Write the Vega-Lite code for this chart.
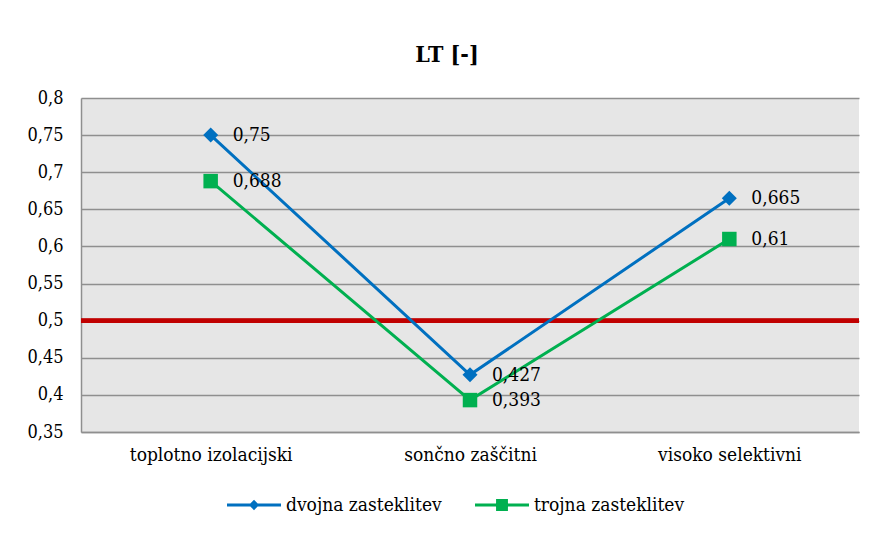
{
  "$schema": "https://vega.github.io/schema/vega-lite/v6.json",
  "width": 778,
  "height": 334,
  "autosize": "none",
  "padding": {"left": 81, "top": 98, "right": 19, "bottom": 101},
  "background": "white",
  "config": {
    "locale": {"number": {"decimal": ",", "thousands": ".", "grouping": [3], "currency": ["", " €"]}},
    "font": "DejaVu Serif Condensed, DejaVu Serif",
    "view": {"fill": "#e6e6e6", "stroke": null},
    "axis": {
      "labelFont": "DejaVu Serif Condensed, DejaVu Serif",
      "labelColor": "black",
      "domainColor": "#8f8f8f",
      "domainWidth": 1.5,
      "gridColor": "#8f8f8f",
      "gridWidth": 1.5,
      "ticks": false,
      "title": null,
      "labelLimit": 400
    },
    "legend": {"labelFont": "DejaVu Serif Condensed, DejaVu Serif", "labelLimit": 400}
  },
  "title": {
    "text": "LT [-]",
    "font": "DejaVu Serif Condensed, DejaVu Serif",
    "fontSize": 23,
    "fontWeight": "bold",
    "color": "black",
    "dx": -23,
    "offset": 22
  },
  "data": {
    "values": [
      {"vrsta": "toplotno izolacijski", "zasteklitev": "dvojna zasteklitev", "LT": 0.75},
      {"vrsta": "sončno zaščitni", "zasteklitev": "dvojna zasteklitev", "LT": 0.427},
      {"vrsta": "visoko selektivni", "zasteklitev": "dvojna zasteklitev", "LT": 0.665},
      {"vrsta": "toplotno izolacijski", "zasteklitev": "trojna zasteklitev", "LT": 0.688},
      {"vrsta": "sončno zaščitni", "zasteklitev": "trojna zasteklitev", "LT": 0.393},
      {"vrsta": "visoko selektivni", "zasteklitev": "trojna zasteklitev", "LT": 0.61}
    ]
  },
  "encoding": {
    "x": {
      "field": "vrsta",
      "type": "nominal",
      "sort": null,
      "scale": {"type": "point", "padding": 0.5},
      "axis": {"labelAngle": 0, "labelFontSize": 19, "labelPadding": 13, "grid": false}
    },
    "y": {
      "field": "LT",
      "type": "quantitative",
      "scale": {"domain": [0.35, 0.8], "nice": false, "zero": false},
      "axis": {
        "values": [0.35, 0.4, 0.45, 0.5, 0.55, 0.6, 0.65, 0.7, 0.75, 0.8],
        "format": ".2~f",
        "labelFontSize": 18,
        "labelPadding": 18,
        "grid": true
      }
    }
  },
  "layer": [
    {
      "mark": {"type": "rule", "color": "#c00000", "strokeWidth": 4},
      "encoding": {
        "y": {"datum": 0.5, "type": "quantitative"},
        "x": null
      }
    },
    {
      "transform": [{"filter": "datum.zasteklitev === 'dvojna zasteklitev'"}],
      "mark": {"type": "line", "strokeWidth": 3, "color": "#0070c0"}
    },
    {
      "transform": [{"filter": "datum.zasteklitev === 'trojna zasteklitev'"}],
      "mark": {"type": "line", "strokeWidth": 3, "color": "#00b050"}
    },
    {
      "transform": [{"filter": "datum.zasteklitev === 'dvojna zasteklitev'"}],
      "mark": {"type": "point", "shape": "diamond", "filled": true, "size": 225, "opacity": 1, "color": "#0070c0"}
    },
    {
      "transform": [{"filter": "datum.zasteklitev === 'trojna zasteklitev'"}],
      "mark": {"type": "point", "shape": "square", "filled": true, "size": 210, "opacity": 1, "color": "#00b050"}
    },
    {
      "mark": {"type": "text", "align": "left", "baseline": "middle", "dx": 22, "fontSize": 19, "color": "black"},
      "encoding": {
        "text": {"field": "LT", "type": "quantitative", "format": ".3~f"}
      }
    },
    {
      "transform": [{"filter": "datum.LT > 5"}],
      "mark": {"type": "point", "filled": true, "opacity": 1},
      "encoding": {
        "color": {
          "field": "zasteklitev",
          "type": "nominal",
          "scale": {"domain": ["dvojna zasteklitev", "trojna zasteklitev"], "range": ["#0070c0", "#00b050"]},
          "legend": {
            "orient": "none",
            "legendX": 146,
            "legendY": 380,
            "direction": "horizontal",
            "title": null,
            "symbolSize": 2916,
            "symbolStrokeWidth": 0,
            "symbolOpacity": 1,
            "labelFontSize": 19,
            "labelColor": "black",
            "labelOffset": 5,
            "columnPadding": 33
          }
        },
        "shape": {
          "field": "zasteklitev",
          "type": "nominal",
          "scale": {
            "domain": ["dvojna zasteklitev", "trojna zasteklitev"],
            "range": [
              "M-1,-0.056H1V0.056H-1Z M0,-0.19L0.19,0L0,0.19L-0.19,0Z",
              "M-1,-0.056H1V0.056H-1Z M-0.22,-0.22H0.22V0.22H-0.22Z"
            ]
          },
          "legend": {
            "orient": "none",
            "legendX": 146,
            "legendY": 380,
            "direction": "horizontal",
            "title": null,
            "symbolSize": 2916,
            "symbolStrokeWidth": 0,
            "symbolOpacity": 1,
            "labelFontSize": 19,
            "labelColor": "black",
            "labelOffset": 5,
            "columnPadding": 33
          }
        }
      }
    }
  ]
}
